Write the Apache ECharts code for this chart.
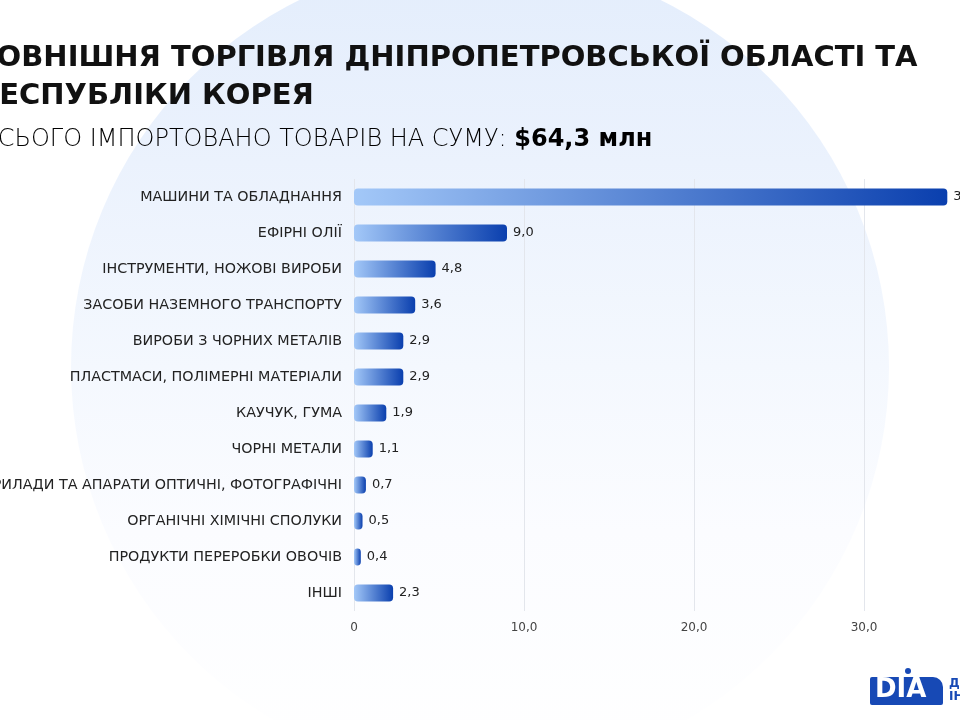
<!DOCTYPE html>
<html><head><meta charset="utf-8">
<script src="https://cdn.jsdelivr.net/npm/echarts@6/dist/echarts.min.js"></script>
<style>html,body{margin:0;padding:0;background:#fff}#c{width:960px;height:720px}</style>
</head><body><div id="c"></div>
<script>
const categories = [
  'МАШИНИ ТА ОБЛАДНАННЯ',
  'ЕФІРНІ ОЛІЇ',
  'ІНСТРУМЕНТИ, НОЖОВІ ВИРОБИ',
  'ЗАСОБИ НАЗЕМНОГО ТРАНСПОРТУ',
  'ВИРОБИ З ЧОРНИХ МЕТАЛІВ',
  'ПЛАСТМАСИ, ПОЛІМЕРНІ МАТЕРІАЛИ',
  'КАУЧУК, ГУМА',
  'ЧОРНІ МЕТАЛИ',
  'ПРИЛАДИ ТА АПАРАТИ ОПТИЧНІ, ФОТОГРАФІЧНІ',
  'ОРГАНІЧНІ ХІМІЧНІ СПОЛУКИ',
  'ПРОДУКТИ ПЕРЕРОБКИ ОВОЧІВ',
  'ІНШІ'
];
const values = [34.9, 9.0, 4.8, 3.6, 2.9, 2.9, 1.9, 1.1, 0.7, 0.5, 0.4, 2.3];
const xTicks = [0, 10, 20, 30, 40];
const titleLines = ['ЗОВНІШНЯ ТОРГІВЛЯ ДНІПРОПЕТРОВСЬКОЇ ОБЛАСТІ ТА', 'РЕСПУБЛІКИ КОРЕЯ'];
const subtitleText = 'ВСЬОГО ІМПОРТОВАНО ТОВАРІВ НА СУМУ: ';
const totalText = '$64,3 млн';

const fmt = v => v === 0 ? '0' : v.toFixed(1).replace('.', ',');
const FONT = '"DejaVu Sans", sans-serif';

const chart = echarts.init(document.getElementById('c'));
chart.setOption({
  backgroundColor: '#ffffff',
  animation: false,
  graphic: [
    { type: 'circle', z: -10, silent: true,
      shape: { cx: 480, cy: 367, r: 409 },
      style: {
        fill: new echarts.graphic.LinearGradient(0, 0, 0, 1, [
          { offset: 0, color: '#e3edfc' },
          { offset: 0.25, color: '#ebf2fd' },
          { offset: 0.5, color: '#f4f8fe' },
          { offset: 0.7, color: '#fbfcff' },
          { offset: 1, color: '#ffffff' }
        ])
      } },
    { type: 'text', left: -24, top: 44, z: 10,
      style: { text: titleLines[0], font: 'bold 29px ' + FONT, fill: '#111111' } },
    { type: 'text', left: -22, top: 82, z: 10,
      style: { text: titleLines[1], font: 'bold 29px ' + FONT, fill: '#111111' } },
    { type: 'text', left: -18, top: 128, z: 10,
      style: {
        text: '{a|' + subtitleText + '}{b|' + totalText + '}',
        rich: {
          a: { fontSize: 24, fontFamily: FONT, fontWeight: 300, color: '#222222' },
          b: { fontSize: 24, fontFamily: FONT, fontWeight: 'bold', color: '#111111' }
        }
      } },
    { type: 'rect', z: 10, shape: { x: 870, y: 677, width: 73, height: 28, r: [2, 10, 2, 2] },
      style: { fill: '#1749b5' } },
    { type: 'text', z: 11, left: 875, top: 677,
      style: { text: 'DIA', font: 'bold 26px ' + FONT, fill: '#ffffff' } },
    { type: 'circle', z: 11, shape: { cx: 908, cy: 671, r: 3 }, style: { fill: '#1749b5' } },
    { type: 'text', z: 11, left: 949, top: 677,
      style: { text: 'ДН\nІН', font: 'bold 12px ' + FONT, fill: '#1749b5', lineHeight: 13 } }
  ],
  grid: { left: 354, top: 179, width: 680, height: 432, containLabel: false, outerBoundsMode: 'none' },
  xAxis: {
    type: 'value', min: 0, max: 40, interval: 10,
    axisLine: { show: false }, axisTick: { show: false },
    splitLine: { show: true, lineStyle: { color: '#e3e6ec', width: 1 } },
    axisLabel: { formatter: fmt, color: '#444', fontSize: 12, fontFamily: FONT, margin: 11 }
  },
  yAxis: {
    type: 'category', data: categories, inverse: true,
    axisLine: { show: false }, axisTick: { show: false },
    axisLabel: { color: '#222', fontSize: 14.3, fontFamily: FONT, margin: 12 }
  },
  series: [{
    type: 'bar', data: values, barWidth: 17,
    itemStyle: {
      borderRadius: 4,
      color: new echarts.graphic.LinearGradient(0, 0, 1, 0, [
        { offset: 0, color: '#a3c8f8' },
        { offset: 1, color: '#0a3fae' }
      ])
    },
    label: { show: true, position: 'right', distance: 6, formatter: p => fmt(p.value),
      color: '#222', fontSize: 13, fontFamily: FONT }
  }]
});
</script></body></html>
